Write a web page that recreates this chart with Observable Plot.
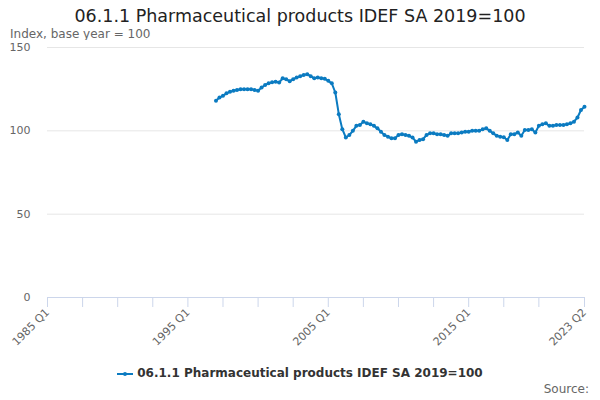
<!DOCTYPE html>
<html><head><meta charset="utf-8">
<script src="https://cdn.jsdelivr.net/npm/d3@7"></script>
<script src="https://cdn.jsdelivr.net/npm/@observablehq/plot@0.6"></script>
<style>
body{margin:0;width:600px;height:400px;overflow:hidden;font-family:"DejaVu Sans",sans-serif;background:#fff;position:relative}
#title{position:absolute;left:0;top:7px;width:600px;text-align:center;font-size:17.5px;color:#222;line-height:18px}
#subtitle{position:absolute;left:10px;top:28px;font-size:12px;color:#666;line-height:12px}
#chart{position:absolute;left:0;top:40px}
#legend{position:absolute;top:365px;left:0;width:600px;text-align:center;font-size:12px;font-weight:bold;color:#333;line-height:16px}
#legend svg{vertical-align:middle;margin-right:4px}
#source{position:absolute;right:11px;top:382px;font-size:12px;color:#666}
</style></head>
<body>
<div id="title"></div>
<div id="subtitle"></div>
<div id="chart"></div>
<div id="legend"></div>
<div id="source">Source:</div>
<script>
const titleText = "06.1.1 Pharmaceutical products IDEF SA 2019=100";
const subtitleText = "Index, base year = 100";
const seriesName = "06.1.1 Pharmaceutical products IDEF SA 2019=100";
const lineColor = "#0b7bc1";

const axisStartYear = 1985;
const startYear = 1997, startQuarter = 1;
const values = [
  118, 120, 121, 122.5, 123.5, 124, 124.5, 125, 125, 125,
  125, 124.5, 124, 126, 127.5, 128.5, 129.2, 129.5, 129, 131.5,
  131, 129.8, 131, 132, 132.8, 133.5, 134, 132.8, 131.5, 132,
  131.5, 131.2, 130, 128.5, 123, 110, 101, 96, 97.5, 100,
  103, 103.5, 105.5, 104.5, 104, 103, 101.5, 99.5, 97.5, 96.5,
  95.5, 95.5, 97.5, 98, 97.5, 97, 96, 93.5, 94.5, 95,
  97.5, 98.5, 98.5, 98, 98, 97.5, 97, 98.5, 98.5, 98.5,
  99, 99.5, 99.5, 100, 100, 100, 101, 101.5, 100, 98.5,
  97, 96.5, 96.2, 94.5, 98, 98, 99, 97, 100.5, 100.5,
  101, 99, 103, 104, 104.5, 103, 103, 103.5, 103.5, 103.5,
  104, 104.5, 105.5, 108, 112.5, 114.5
];
const xTickLabels = ["1985 Q1", "1995 Q1", "2005 Q1", "2015 Q1", "2023 Q2"];
const yTicks = [0, 50, 100, 150];

const qIndex = s => { const [y, q] = s.split(" Q"); return (+y - axisStartYear) * 4 + (+q - 1); };
const labelMap = new Map(xTickLabels.map(s => [qIndex(s), s]));
const lastQ = qIndex(xTickLabels[xTickLabels.length - 1]);
const xTicks = d3.range(0, lastQ - 9, 10).concat([lastQ]);

const data = values.map((v, i) => ({q: (startYear - axisStartYear) * 4 + (startQuarter - 1) + i, v}));

document.getElementById("title").textContent = titleText;
document.getElementById("subtitle").textContent = subtitleText;

const chart = Plot.plot({
  width: 600, height: 320,
  marginLeft: 47, marginRight: 16, marginTop: 7, marginBottom: 63,
  style: {fontFamily: "DejaVu Sans", fontSize: "11px", background: "#fff"},
  x: {domain: [0, lastQ]},
  y: {domain: [0, 150]},
  marks: [
    Plot.gridY(yTicks.filter(d => d > 0), {stroke: "#e6e6e6", strokeOpacity: 1}),
    Plot.axisY(yTicks, {tickSize: 0, tickPadding: 17, fill: "#666", label: null}),
    Plot.ruleY([0], {stroke: "#ccd6eb"}),
    Plot.axisX(xTicks, {tickSize: 10, stroke: "#ccd6eb", strokeOpacity: 1, tickRotate: -45, tickPadding: 3,
      tickFormat: q => labelMap.get(q) ?? "", fill: "#666", label: null}),
    Plot.line(data, {x: "q", y: "v", stroke: lineColor, strokeWidth: 2}),
    Plot.dot(data, {x: "q", y: "v", r: 2, fill: lineColor})
  ]
});
document.getElementById("chart").appendChild(chart);

document.getElementById("legend").innerHTML =
  `<svg width="16" height="10"><line x1="0" x2="16" y1="5" y2="5" stroke="${lineColor}" stroke-width="2"/><circle cx="8" cy="5" r="2" fill="${lineColor}"/></svg>`;
document.getElementById("legend").appendChild(document.createTextNode(seriesName));
</script>
</body></html>
